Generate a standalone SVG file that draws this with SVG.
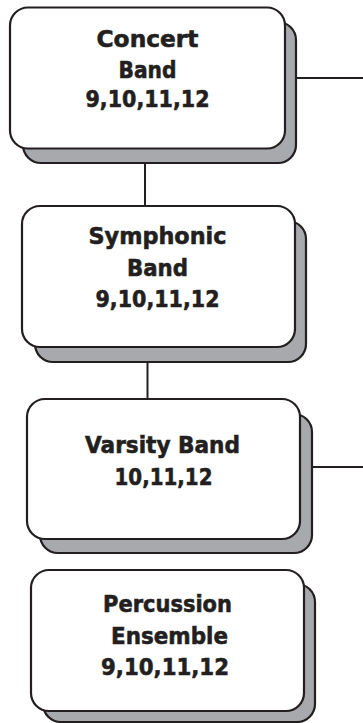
<svg xmlns="http://www.w3.org/2000/svg" width="363" height="723" viewBox="0 0 363 723">
<style>
.sh{fill:#a7a9ac;stroke:#231f20;stroke-width:2.2}
.fr{fill:#ffffff;stroke:#231f20;stroke-width:2.2}
.ln{stroke:#231f20;stroke-width:2;fill:none}
text{font-family:"DejaVu Sans","Liberation Sans",sans-serif;font-weight:bold;font-size:23.5px;fill:#231f20;stroke:#231f20;stroke-width:0.6;text-anchor:middle}
</style>
<rect width="363" height="723" fill="#ffffff"/>
<g id="connectors">
<line class="ln" x1="296" y1="78" x2="363" y2="78"/>
<line class="ln" x1="145" y1="163" x2="145" y2="206"/>
<line class="ln" x1="147.5" y1="362" x2="147.5" y2="399"/>
<line class="ln" x1="312" y1="467" x2="363" y2="467"/>
</g>
<g id="concert-band">
<rect class="sh" x="23" y="22" width="273" height="141" rx="18"/>
<rect class="fr" x="10" y="7.5" width="275" height="141" rx="18"/>
<text x="147.5" y="47" textLength="102" lengthAdjust="spacingAndGlyphs">Concert</text>
<text x="147.5" y="78" textLength="58" lengthAdjust="spacingAndGlyphs">Band</text>
<text x="147.5" y="107" textLength="124" lengthAdjust="spacingAndGlyphs">9,10,11,12</text>
</g>
<g id="symphonic-band">
<rect class="sh" x="35" y="221" width="271" height="141" rx="18"/>
<rect class="fr" x="22" y="206" width="273" height="141" rx="18"/>
<text x="157.5" y="244" textLength="138" lengthAdjust="spacingAndGlyphs">Symphonic</text>
<text x="157.5" y="276" textLength="61" lengthAdjust="spacingAndGlyphs">Band</text>
<text x="157.5" y="307" textLength="124" lengthAdjust="spacingAndGlyphs">9,10,11,12</text>
</g>
<g id="varsity-band">
<rect class="sh" x="40" y="414" width="272" height="139" rx="18"/>
<rect class="fr" x="27" y="399" width="273" height="140" rx="18"/>
<text x="162.5" y="453" textLength="155" lengthAdjust="spacingAndGlyphs">Varsity Band</text>
<text x="163.5" y="484.5" textLength="98" lengthAdjust="spacingAndGlyphs">10,11,12</text>
</g>
<g id="percussion-ensemble">
<rect class="sh" x="43" y="584" width="272" height="138" rx="18"/>
<rect class="fr" x="31" y="570" width="273" height="141" rx="18"/>
<text x="167.5" y="612" textLength="129" lengthAdjust="spacingAndGlyphs">Percussion</text>
<text x="169.5" y="643.5" textLength="117" lengthAdjust="spacingAndGlyphs">Ensemble</text>
<text x="165" y="675" textLength="128" lengthAdjust="spacingAndGlyphs">9,10,11,12</text>
</g>
</svg>
